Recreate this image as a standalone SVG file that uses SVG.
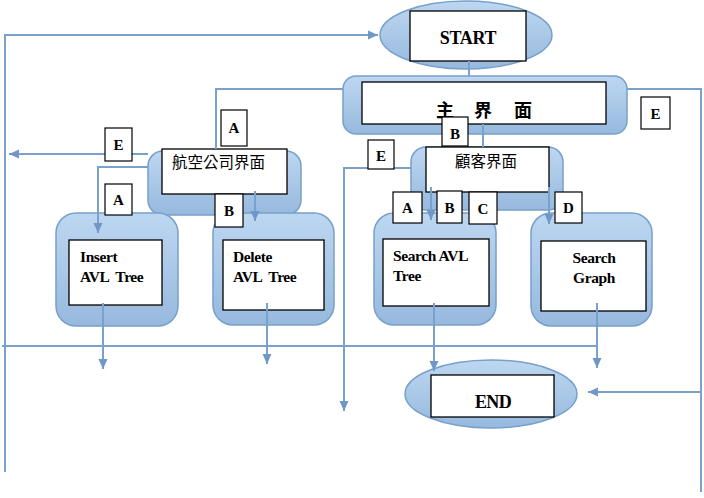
<svg xmlns="http://www.w3.org/2000/svg" width="704" height="498" viewBox="0 0 704 498">
<defs>
<linearGradient id="g" x1="0" y1="0" x2="0" y2="1">
<stop offset="0" stop-color="#bdd7f1"/>
<stop offset="1" stop-color="#97b9de"/>
</linearGradient>
<marker id="ar" markerUnits="userSpaceOnUse" markerWidth="10" markerHeight="10" viewBox="0 0 10 10" refX="10" refY="5" orient="auto">
<path d="M0,0.5 L10,5 L0,9.5 z" fill="#6f98c6"/>
</marker>
<style>
.sh{fill:url(#g);stroke:#77a0ca;stroke-width:1.5}
.in{fill:#fff;stroke:#000;stroke-width:1.3}
.lb{fill:#fff;stroke:#000;stroke-width:1.2}
.c{fill:none;stroke:#7aa1cb;stroke-width:2}
.a{marker-end:url(#ar)}
.t{font-family:"Liberation Serif","Times New Roman",serif;font-weight:bold;fill:#000;white-space:pre}
.cj{font-family:"Noto Sans CJK TC","Noto Sans CJK SC",sans-serif;fill:#000}
</style>
</defs>
<rect width="704" height="498" fill="#fff"/>

<g id="start">
<ellipse class="sh" cx="466" cy="35" rx="86" ry="34"/>
<rect class="in" x="410" y="11" width="116" height="50"/>
<text class="t" x="468" y="44" font-size="18" text-anchor="middle" letter-spacing="-0.3">START</text>
</g>

<g id="main">
<rect class="sh" x="343" y="76" width="284" height="58" rx="13"/>
<rect class="in" x="362" y="82" width="244" height="42"/>
<text class="cj" font-weight="bold" font-size="18" y="117"><tspan x="436">主</tspan><tspan x="474">界</tspan><tspan x="514">面</tspan></text>
</g>

<g id="airline">
<rect class="sh" x="148" y="151" width="153" height="64" rx="15"/>
<rect class="in" x="162" y="149" width="125" height="45"/>
<text class="cj" x="172" y="168" font-size="15.5">航空公司界面</text>
</g>

<g id="customer">
<rect class="sh" x="411" y="147" width="152" height="63" rx="15"/>
<rect class="in" x="426" y="147" width="123" height="45"/>
<text class="cj" x="455" y="167" font-size="15.5">顧客界面</text>
</g>

<g id="insert">
<rect class="sh" x="56" y="213" width="122" height="113" rx="20"/>
<rect class="in" x="69" y="240" width="93" height="65"/>
<text class="t" font-size="15.5" letter-spacing="-0.4"><tspan x="80" y="262">Insert</tspan><tspan x="80" y="282">AVL  Tree</tspan></text>
</g>

<g id="delete">
<rect class="sh" x="213" y="213" width="121" height="112" rx="20"/>
<rect class="in" x="223" y="240" width="101" height="70"/>
<text class="t" font-size="15.5" letter-spacing="-0.4"><tspan x="233" y="262">Delete</tspan><tspan x="233" y="282">AVL  Tree</tspan></text>
</g>

<g id="searchavl">
<rect class="sh" x="374" y="213" width="122" height="112" rx="20"/>
<rect class="in" x="383" y="239" width="106" height="67"/>
<text class="t" font-size="15.5" letter-spacing="-0.4"><tspan x="393" y="261">Search AVL</tspan><tspan x="393" y="281">Tree</tspan></text>
</g>

<g id="searchgraph">
<rect class="sh" x="531" y="213" width="121" height="113" rx="20"/>
<rect class="in" x="541" y="241" width="105" height="70"/>
<text class="t" font-size="15.5" letter-spacing="-0.4" text-anchor="middle"><tspan x="594" y="263">Search</tspan><tspan x="594" y="283">Graph</tspan></text>
</g>

<g id="end">
<ellipse class="sh" cx="491" cy="394" rx="86" ry="34"/>
<rect class="in" x="431" y="375" width="123" height="42"/>
<text class="t" x="493" y="408" font-size="18" text-anchor="middle" letter-spacing="-0.6">END</text>
</g>

<g id="connectors">
<path class="c a" d="M5,472 V35 H378"/>
<path class="c" d="M469,61 V76"/>
<path class="c" d="M343,89 H216 V149"/>
<path class="c" d="M627,89 H701 V492"/>
<path class="c a" d="M701,392 H588"/>
<path class="c" d="M483,124 V147"/>
<path class="c a" d="M148,154 H9"/>
<path class="c a" d="M148,167 H98 V233"/>
<path class="c a" d="M255,191 V221"/>
<path class="c a" d="M411,168 H344 V411"/>
<path class="c a" d="M431,187 V220"/>
<path class="c a" d="M549,187 V224"/>
<path class="c a" d="M103,303 V369"/>
<path class="c a" d="M267,303 V364"/>
<path class="c a" d="M434,303 V371"/>
<path class="c a" d="M597,303 V368"/>
<path class="c" d="M2,346 H598"/>
</g>

<g id="labels">
<g><rect class="lb" x="221" y="110" width="26" height="36"/><text class="t" x="234" y="133" font-size="15" text-anchor="middle">A</text></g>
<g><rect class="lb" x="105" y="128" width="27" height="33"/><text class="t" x="118.5" y="150" font-size="15" text-anchor="middle">E</text></g>
<g><rect class="lb" x="105" y="184" width="27" height="31"/><text class="t" x="118.5" y="205" font-size="15" text-anchor="middle">A</text></g>
<g><rect class="lb" x="215" y="194" width="28" height="33"/><text class="t" x="229" y="216" font-size="15" text-anchor="middle">B</text></g>
<g><rect class="lb" x="442" y="117" width="26" height="29"/><text class="t" x="455" y="139" font-size="15" text-anchor="middle">B</text></g>
<g><rect class="lb" x="368" y="140" width="26" height="29"/><text class="t" x="381" y="161" font-size="15" text-anchor="middle">E</text></g>
<g><rect class="lb" x="641" y="97" width="29" height="32"/><text class="t" x="655.5" y="119" font-size="15" text-anchor="middle">E</text></g>
<g><rect class="lb" x="393" y="192" width="29" height="31"/><text class="t" x="407.5" y="213" font-size="15" text-anchor="middle">A</text></g>
<g><rect class="lb" x="437" y="191" width="25" height="32"/><text class="t" x="449.5" y="213" font-size="15" text-anchor="middle">B</text></g>
<g><rect class="lb" x="469" y="192" width="28" height="32"/><text class="t" x="483" y="214" font-size="15" text-anchor="middle">C</text></g>
<g><rect class="lb" x="555" y="192" width="27" height="31"/><text class="t" x="568.5" y="213" font-size="15" text-anchor="middle">D</text></g>
</g>
</svg>
